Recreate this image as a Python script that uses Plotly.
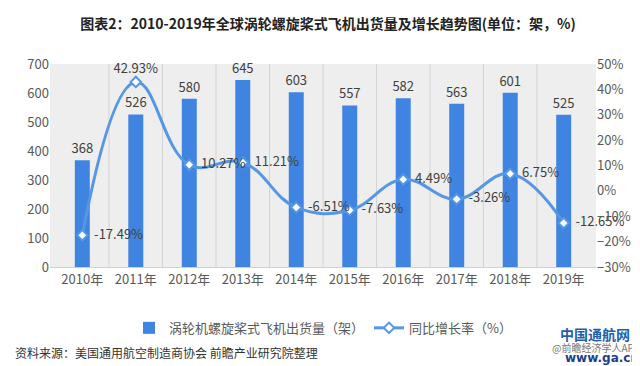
import plotly.graph_objects as go

years = ["2010年", "2011年", "2012年", "2013年", "2014年", "2015年", "2016年", "2017年", "2018年", "2019年"]
shipments = [368, 526, 580, 645, 603, 557, 582, 563, 601, 525]
growth = [-17.49, 42.93, 10.27, 11.21, -6.51, -7.63, 4.49, -3.26, 6.75, -12.65]

bar_color = "#3f84e0"
line_color = "#5597e6"
font_main = "Noto Sans CJK SC"
tick_color = "#595959"

fig = go.Figure()
fig.add_trace(go.Bar(
    x=years, y=shipments, name="涡轮机螺旋桨式飞机出货量（架）",
    marker=dict(color=bar_color, line=dict(width=0)), width=0.28,
    text=[str(v) for v in shipments], textposition="outside",
    textfont=dict(size=13, color="#404040", family=font_main),
    constraintext="none", cliponaxis=False,
))
positions = ["middle right"] * len(growth)
positions[1] = "top center"
labels = [("\u00a0\u00a0" + f"{v:.2f}%") for v in growth]
labels[1] = f"{growth[1]:.2f}%"
fig.add_trace(go.Scatter(
    x=years, y=growth, name="同比增长率（%）", yaxis="y2",
    mode="lines+markers+text",
    line=dict(color=line_color, width=3, shape="spline", smoothing=1.2),
    marker=dict(symbol="diamond", size=8, color="white", line=dict(color=line_color, width=2)),
    text=labels, textposition=positions,
    textfont=dict(size=13, color="#404040", family=font_main),
    cliponaxis=False,
))

fig.update_layout(
    width=640, height=366,
    margin=dict(l=42, r=52, t=56, b=107),
    paper_bgcolor="white", plot_bgcolor="#eeeeee",
    font=dict(family=font_main, color=tick_color),
    title=dict(text="<b>图表2：2010-2019年全球涡轮螺旋桨式飞机出货量及增长趋势图(单位：架，%)</b>",
               x=0.5, xanchor="center", y=0.955, yanchor="middle",
               font=dict(size=14, color="#222222", family=font_main)),
    xaxis=dict(showgrid=False, tickfont=dict(size=13, color=tick_color), ticks="",
               showline=True, linecolor="#d0d0d0"),
    yaxis=dict(range=[0, 700], dtick=100, showgrid=False, zeroline=False,
               tickfont=dict(size=13, color=tick_color), ticks=""),
    yaxis2=dict(range=[-30, 50], dtick=10, overlaying="y", side="right", showgrid=False,
                zeroline=False, ticksuffix="%", tickfont=dict(size=13, color=tick_color), ticks=""),
    legend=dict(orientation="h", x=0.5, xanchor="center", y=-0.3, yanchor="middle",
                font=dict(size=13, color=tick_color), bgcolor="rgba(0,0,0,0)"),
    showlegend=True,
)

# vertical category separators
for i in range(1, len(years)):
    fig.add_shape(type="line", xref="x", yref="paper", x0=i - 0.5, x1=i - 0.5, y0=0, y1=1,
                  line=dict(color="#d4d4d4", width=1), layer="below")

fig.add_annotation(text="资料来源：美国通用航空制造商协会 前瞻产业研究院整理", xref="paper", yref="paper",
                   x=-0.068, y=-0.42, xanchor="left", yanchor="middle", showarrow=False,
                   font=dict(size=12, color="#333333", family=font_main))
fig.add_annotation(text="<b>中国通航网</b>", xref="paper", yref="paper",
                   x=0.93, y=-0.33, xanchor="left", yanchor="middle", showarrow=False,
                   font=dict(size=14, color="#1f5fb0", family=font_main))
fig.add_annotation(text="@前瞻经济学人APP", xref="paper", yref="paper",
                   x=1.085, y=-0.395, xanchor="right", yanchor="middle", showarrow=False,
                   font=dict(size=10, color="#777777", family=font_main))
fig.add_annotation(text="<b>www.ga.cn</b>", xref="paper", yref="paper",
                   x=1.082, y=-0.45, xanchor="right", yanchor="middle", showarrow=False,
                   font=dict(size=12, color="#1a3f8f", family="DejaVu Sans"))

fig.write_html("out.html")
